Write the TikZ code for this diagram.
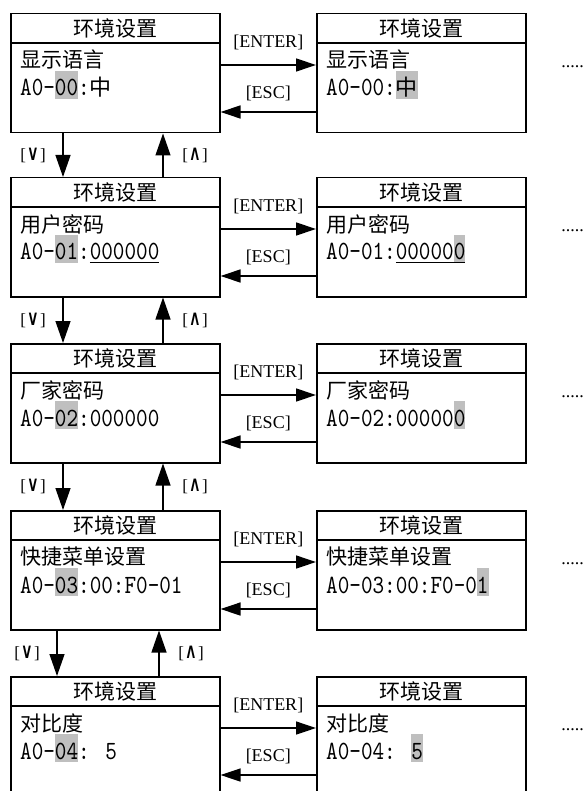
\documentclass[tikz,border=0pt]{standalone}
\usepackage{fontspec}
\usepackage{graphicx}
\usetikzlibrary{arrows.meta}
\newfontfamily\cjk{Noto Sans CJK SC}
\newfontfamily\tms{Liberation Serif}
\newfontfamily\djv{DejaVu Sans}
\newfontfamily\cdf[FakeStretch=0.84]{lmmono10-regular.otf}
\definecolor{hlgray}{HTML}{BFBFBF}
\newcommand\hlt[1]{{\setlength\fboxsep{0pt}\colorbox{hlgray}{\rule[-3pt]{0pt}{28pt}#1}}}
\newcommand\myul[1]{{\setbox0\hbox{#1}\copy0\llap{\rule[-2.5pt]{\wd0}{0.9pt}}}}
\newcommand\codefont{\cdf\fontsize{26.3}{26}\selectfont}
\newcommand\zh[1]{{\cjk\fontsize{22}{22}\selectfont #1}}
\newcommand\kv{{\tms[}\hspace{3pt}\scalebox{0.62}[1]{\djv\bfseries V}\hspace{3pt}{\tms]}}
\newcommand\ka{{\tms[}\hspace{3pt}\scalebox{0.62}[1]{\djv\bfseries Λ}\hspace{3pt}{\tms]}}
\tikzset{
  scr/.style={draw, line width=1.5pt, minimum width=209pt, minimum height=119pt, inner sep=0pt, anchor=north west},
  sepline/.style={line width=1.2pt},
  ttl/.style={font=\cjk\fontsize{21}{21}\selectfont, inner sep=0pt},
  lineone/.style={font=\cjk\fontsize{21}{21}\selectfont, inner sep=0pt, anchor=west},
  code/.style={font=\codefont, inner sep=0pt, anchor=base west},
  harr/.style={line width=1.3pt, -{Triangle[length=20pt,width=13pt]}},
  varr/.style={line width=1.3pt, -{Triangle[length=22pt,width=15pt]}},
  keylbl/.style={font=\tms\fontsize{18}{18}\selectfont, inner sep=0pt},
  arrlbl/.style={font=\tms\fontsize{17}{17}\selectfont, inner sep=0pt},
  dotslbl/.style={font=\tms\fontsize{18}{18}\selectfont, inner sep=0pt}
}
\newcommand\screenrow[5]{%
  \node[scr] (L#1) at (10,#2) {};
  \node[scr] (R#1) at (316,#2) {};
  \draw[sepline] ([yshift=-30pt]L#1.north west) -- ([yshift=-30pt]L#1.north east);
  \draw[sepline] ([yshift=-30pt]R#1.north west) -- ([yshift=-30pt]R#1.north east);
  \node[ttl] (Lt#1) at ([yshift=-15pt]L#1.north) {环境设置};
  \node[ttl] (Rt#1) at ([yshift=-15pt]R#1.north) {环境设置};
  \node[lineone] (La#1) at ([xshift=10pt,yshift=-47pt]L#1.north west) {#3};
  \node[lineone] (Ra#1) at ([xshift=10pt,yshift=-47pt]R#1.north west) {#3};
  \node[code] (Lb#1) at ([xshift=10pt,yshift=-83pt]L#1.north west) {#4};
  \node[code] (Rb#1) at ([xshift=10pt,yshift=-83pt]R#1.north west) {#5};
  \draw[harr] ([yshift=-52pt]L#1.north east) -- ([yshift=-52pt]R#1.north west)
     node[keylbl, midway, yshift=23pt] (Ke#1) {[ENTER]};
  \draw[harr] ([yshift=-99pt]R#1.north west) -- ([yshift=-99pt]L#1.north east)
     node[keylbl, midway, yshift=19pt] (Ks#1) {[ESC]};
  \node[dotslbl] (D#1) at ([xshift=46pt,yshift=-54pt]R#1.north east) {.....};
}
\begin{document}
\begin{tikzpicture}[x=1pt,y=-1pt]
\useasboundingbox (0,0) rectangle (586,791);
\clip (0,0) rectangle (586,791);
\screenrow{1}{13}{显示语言}{A0-\hlt{00}:\zh{中}}{A0-00:\hlt{\zh{中}}}
\screenrow{2}{177}{用户密码}{A0-\hlt{01}:\myul{000000}}{A0-01:\myul{00000\hlt{0}}}
\screenrow{3}{343}{厂家密码}{A0-\hlt{02}:000000}{A0-02:00000\hlt{0}}
\screenrow{4}{510}{快捷菜单设置}{A0-\hlt{03}:00:F0-01}{A0-03:00:F0-0\hlt{1}}
\screenrow{5}{676}{对比度}{A0-\hlt{04}: 5}{A0-04: \hlt{5}}
% vertical navigation
\draw[varr] ([xshift=53pt]L1.south west) -- ([xshift=53pt]L2.north west) node[arrlbl, midway, xshift=-30pt] (V1) {\kv};
\draw[varr] ([xshift=153pt]L2.north west) -- ([xshift=153pt]L1.south west) node[arrlbl, midway, xshift=32pt] (A1) {\ka};
\draw[varr] ([xshift=53pt]L2.south west) -- ([xshift=53pt]L3.north west) node[arrlbl, midway, xshift=-30pt] (V2) {\kv};
\draw[varr] ([xshift=153pt]L3.north west) -- ([xshift=153pt]L2.south west) node[arrlbl, midway, xshift=32pt] (A2) {\ka};
\draw[varr] ([xshift=53pt]L3.south west) -- ([xshift=53pt]L4.north west) node[arrlbl, midway, xshift=-30pt] (V3) {\kv};
\draw[varr] ([xshift=153pt]L4.north west) -- ([xshift=153pt]L3.south west) node[arrlbl, midway, xshift=32pt] (A3) {\ka};
\draw[varr] ([xshift=47pt]L4.south west) -- ([xshift=47pt]L5.north west) node[arrlbl, midway, xshift=-30pt] (V4) {\kv};
\draw[varr] ([xshift=149pt]L5.north west) -- ([xshift=149pt]L4.south west) node[arrlbl, midway, xshift=32pt] (A4) {\ka};
\end{tikzpicture}
\end{document}
